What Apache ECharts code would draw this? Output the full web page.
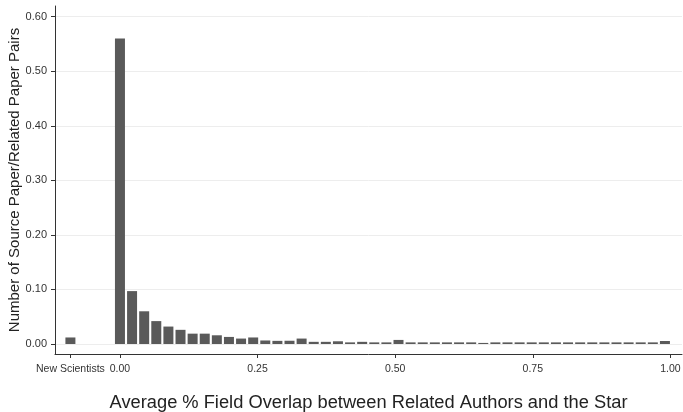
<!DOCTYPE html>
<html>
<head>
<meta charset="utf-8">
<script src="https://cdn.jsdelivr.net/npm/echarts@6/dist/echarts.min.js"></script>
<style>
html,body{margin:0;padding:0;background:#fff;}
#chart{width:683px;height:412px;}
</style>
</head>
<body>
<div id="chart"></div>
<script>
// Bin centres (average % field overlap) and share of pairs in each bin
const binCenters = [0, 0.022, 0.044, 0.066, 0.088, 0.110, 0.132, 0.154, 0.176, 0.198,
  0.220, 0.242, 0.264, 0.286, 0.308, 0.330, 0.352, 0.374, 0.396, 0.418,
  0.440, 0.462, 0.484, 0.506, 0.528, 0.550, 0.572, 0.594, 0.616, 0.638,
  0.660, 0.682, 0.704, 0.726, 0.748, 0.770, 0.792, 0.814, 0.836, 0.858,
  0.880, 0.902, 0.924, 0.946, 0.968, 0.990];
const shares = [0.560, 0.097, 0.060, 0.042, 0.032, 0.026, 0.019, 0.019, 0.016, 0.013,
  0.010, 0.012, 0.0065, 0.0058, 0.006, 0.010, 0.004, 0.004, 0.005, 0.003,
  0.004, 0.003, 0.003, 0.0075, 0.003, 0.003, 0.003, 0.003, 0.003, 0.003,
  0.002, 0.003, 0.003, 0.003, 0.003, 0.003, 0.003, 0.003, 0.003, 0.003,
  0.003, 0.003, 0.003, 0.003, 0.003, 0.0055];
const newScientistsPos = -0.09;
const newScientistsLabel = 'New Scientists';
const newScientistsShare = 0.012;
const xTickValues = [-0.09, 0, 0.25, 0.5, 0.75, 1];
const yTickValues = [0, 0.1, 0.2, 0.3, 0.4, 0.5, 0.6];
const xTitle = 'Average % Field Overlap between Related Authors and the Star';
const yTitle = 'Number of Source Paper/Related Paper Pairs';

const barData = [[newScientistsPos, newScientistsShare]].concat(
  binCenters.map((c, i) => [c, shares[i]])
);

const FONT = 'Liberation Sans, Arial, sans-serif';
const chart = echarts.init(document.getElementById('chart'), null, {renderer: 'canvas'});
chart.setOption({
  backgroundColor: '#ffffff',
  animation: false,
  grid: {left: 55, right: 1, top: 6, bottom: 58, containLabel: false, outerBoundsMode: 'none'},
  xAxis: {
    type: 'value',
    min: -0.118,
    max: 1.021,
    name: xTitle,
    nameLocation: 'middle',
    nameGap: 40,
    nameMoveOverlap: false,
    nameTextStyle: {fontFamily: FONT, fontSize: 18.3, color: '#222'},
    axisLine: {show: true, onZero: false, lineStyle: {color: '#333', width: 1}},
    axisTick: {show: true, length: 4, customValues: xTickValues, lineStyle: {color: '#333'}},
    axisLabel: {
      customValues: xTickValues,
      fontFamily: FONT, fontSize: 10.5, color: '#333', margin: 10,
      formatter: v => (v < 0 ? newScientistsLabel : v.toFixed(2))
    },
    splitLine: {show: false}
  },
  yAxis: {
    type: 'value',
    min: -0.0183,
    max: 0.6196,
    name: yTitle,
    nameLocation: 'middle',
    nameGap: 33,
    nameMoveOverlap: false,
    nameTextStyle: {fontFamily: FONT, fontSize: 15, color: '#222'},
    axisLine: {show: true, onZero: false, lineStyle: {color: '#333', width: 1}},
    axisTick: {show: true, length: 4, customValues: yTickValues, lineStyle: {color: '#333'}},
    axisLabel: {
      customValues: yTickValues,
      fontFamily: FONT, fontSize: 11, color: '#333', margin: 8,
      formatter: v => v.toFixed(2)
    },
    splitLine: {show: true, lineStyle: {color: '#ededed', width: 1}}
  },
  series: [{
    type: 'bar',
    data: barData,
    barWidth: 10,
    itemStyle: {color: '#5a5a5a'}
  }]
});
</script>
</body>
</html>
